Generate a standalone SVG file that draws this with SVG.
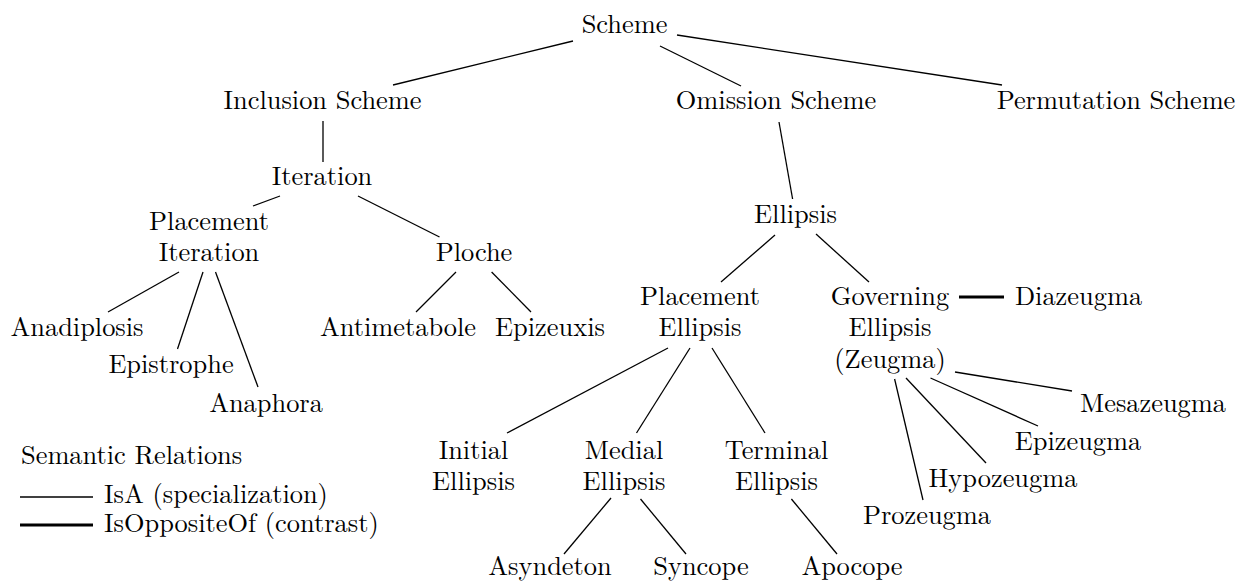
<svg xmlns="http://www.w3.org/2000/svg" width="1238" height="583" viewBox="0 0 1238 583">
<style>
text{font-family:"Latin Modern Roman","CMU Serif","Liberation Serif",Tinos,"Nimbus Roman","Nimbus Roman No9 L",FreeSerif,"TeX Gyre Termes","DejaVu Serif","Noto Serif","Times New Roman",Times,serif;font-size:26.4px;fill:#000;text-anchor:middle}
.l{text-anchor:start}
.e{stroke:#000;stroke-width:1.3;fill:none}
.o{stroke:#000;stroke-width:3;fill:none}
</style>
<rect width="1238" height="583" fill="#fff"/>
<g id="connectors">
<line class="e" x1="573" y1="41" x2="393" y2="85"/>
<line class="e" x1="660" y1="46" x2="741" y2="86"/>
<line class="e" x1="677" y1="35" x2="1002" y2="85"/>
<line class="e" x1="323" y1="121" x2="323" y2="162"/>
<line class="e" x1="280" y1="196" x2="253" y2="206"/>
<line class="e" x1="358" y1="196" x2="439.5" y2="237"/>
<line class="e" x1="179" y1="272" x2="108" y2="312"/>
<line class="e" x1="203" y1="272" x2="177.5" y2="349"/>
<line class="e" x1="215.5" y1="272" x2="258" y2="387"/>
<line class="e" x1="456" y1="272" x2="416" y2="312"/>
<line class="e" x1="491.6" y1="272" x2="531" y2="312"/>
<line class="e" x1="779" y1="122" x2="792.6" y2="199"/>
<line class="e" x1="775" y1="235" x2="721" y2="282"/>
<line class="e" x1="816" y1="234" x2="869" y2="282"/>
<line class="e" x1="668" y1="348" x2="507" y2="433"/>
<line class="e" x1="690" y1="348" x2="636.5" y2="433"/>
<line class="e" x1="712" y1="348" x2="765" y2="433"/>
<line class="e" x1="955" y1="372" x2="1072" y2="391"/>
<line class="e" x1="930.5" y1="378" x2="1038" y2="426"/>
<line class="e" x1="906" y1="378" x2="986" y2="463"/>
<line class="e" x1="894.6" y1="379" x2="923" y2="500"/>
<line class="e" x1="611" y1="498" x2="564" y2="554"/>
<line class="e" x1="640.5" y1="499" x2="686" y2="554"/>
<line class="e" x1="791.4" y1="499" x2="837" y2="554"/>
<line class="o" x1="959" y1="297" x2="1004" y2="297"/>
</g>
<g id="scheme"><text x="624.5" y="33">Scheme</text></g>
<g id="inclusion"><text x="322.5" y="109">Inclusion Scheme</text></g>
<g id="omission"><text x="776" y="109">Omission Scheme</text></g>
<g id="permutation"><text x="1116" y="109">Permutation Scheme</text></g>
<g id="iteration"><text x="322" y="185">Iteration</text></g>
<g id="placement-iteration"><text x="209" y="230">Placement</text><text x="209" y="261">Iteration</text></g>
<g id="ploche"><text x="474" y="261">Ploche</text></g>
<g id="anadiplosis"><text x="77" y="336">Anadiplosis</text></g>
<g id="epistrophe"><text x="171" y="373">Epistrophe</text></g>
<g id="anaphora"><text x="266" y="412">Anaphora</text></g>
<g id="antimetabole"><text x="398" y="336">Antimetabole</text></g>
<g id="epizeuxis"><text x="550" y="336">Epizeuxis</text></g>
<g id="ellipsis"><text x="795.5" y="223">Ellipsis</text></g>
<g id="placement-ellipsis"><text x="700" y="305">Placement</text><text x="700" y="336">Ellipsis</text></g>
<g id="governing-ellipsis"><text x="890" y="305">Governing</text><text x="890" y="336">Ellipsis</text><text x="890" y="368">(Zeugma)</text></g>
<g id="diazeugma"><text x="1078.5" y="305">Diazeugma</text></g>
<g id="mesazeugma"><text x="1153" y="412">Mesazeugma</text></g>
<g id="epizeugma"><text x="1078" y="450">Epizeugma</text></g>
<g id="hypozeugma"><text x="1003" y="487">Hypozeugma</text></g>
<g id="prozeugma"><text x="927" y="524">Prozeugma</text></g>
<g id="initial-ellipsis"><text x="473.5" y="459">Initial</text><text x="473.5" y="490">Ellipsis</text></g>
<g id="medial-ellipsis"><text x="624" y="459">Medial</text><text x="624" y="490">Ellipsis</text></g>
<g id="terminal-ellipsis"><text x="776.5" y="459">Terminal</text><text x="776.5" y="490">Ellipsis</text></g>
<g id="asyndeton"><text x="550" y="575">Asyndeton</text></g>
<g id="syncope"><text x="701" y="575">Syncope</text></g>
<g id="apocope"><text x="852" y="575">Apocope</text></g>
<g id="legend">
<text class="l" x="21" y="464">Semantic Relations</text>
<line class="e" x1="20" y1="497" x2="93" y2="497"/>
<text class="l" x="104" y="503">IsA (specialization)</text>
<line class="o" x1="20" y1="525" x2="93" y2="525"/>
<text class="l" x="104" y="532">IsOppositeOf (contrast)</text>
</g>
</svg>
